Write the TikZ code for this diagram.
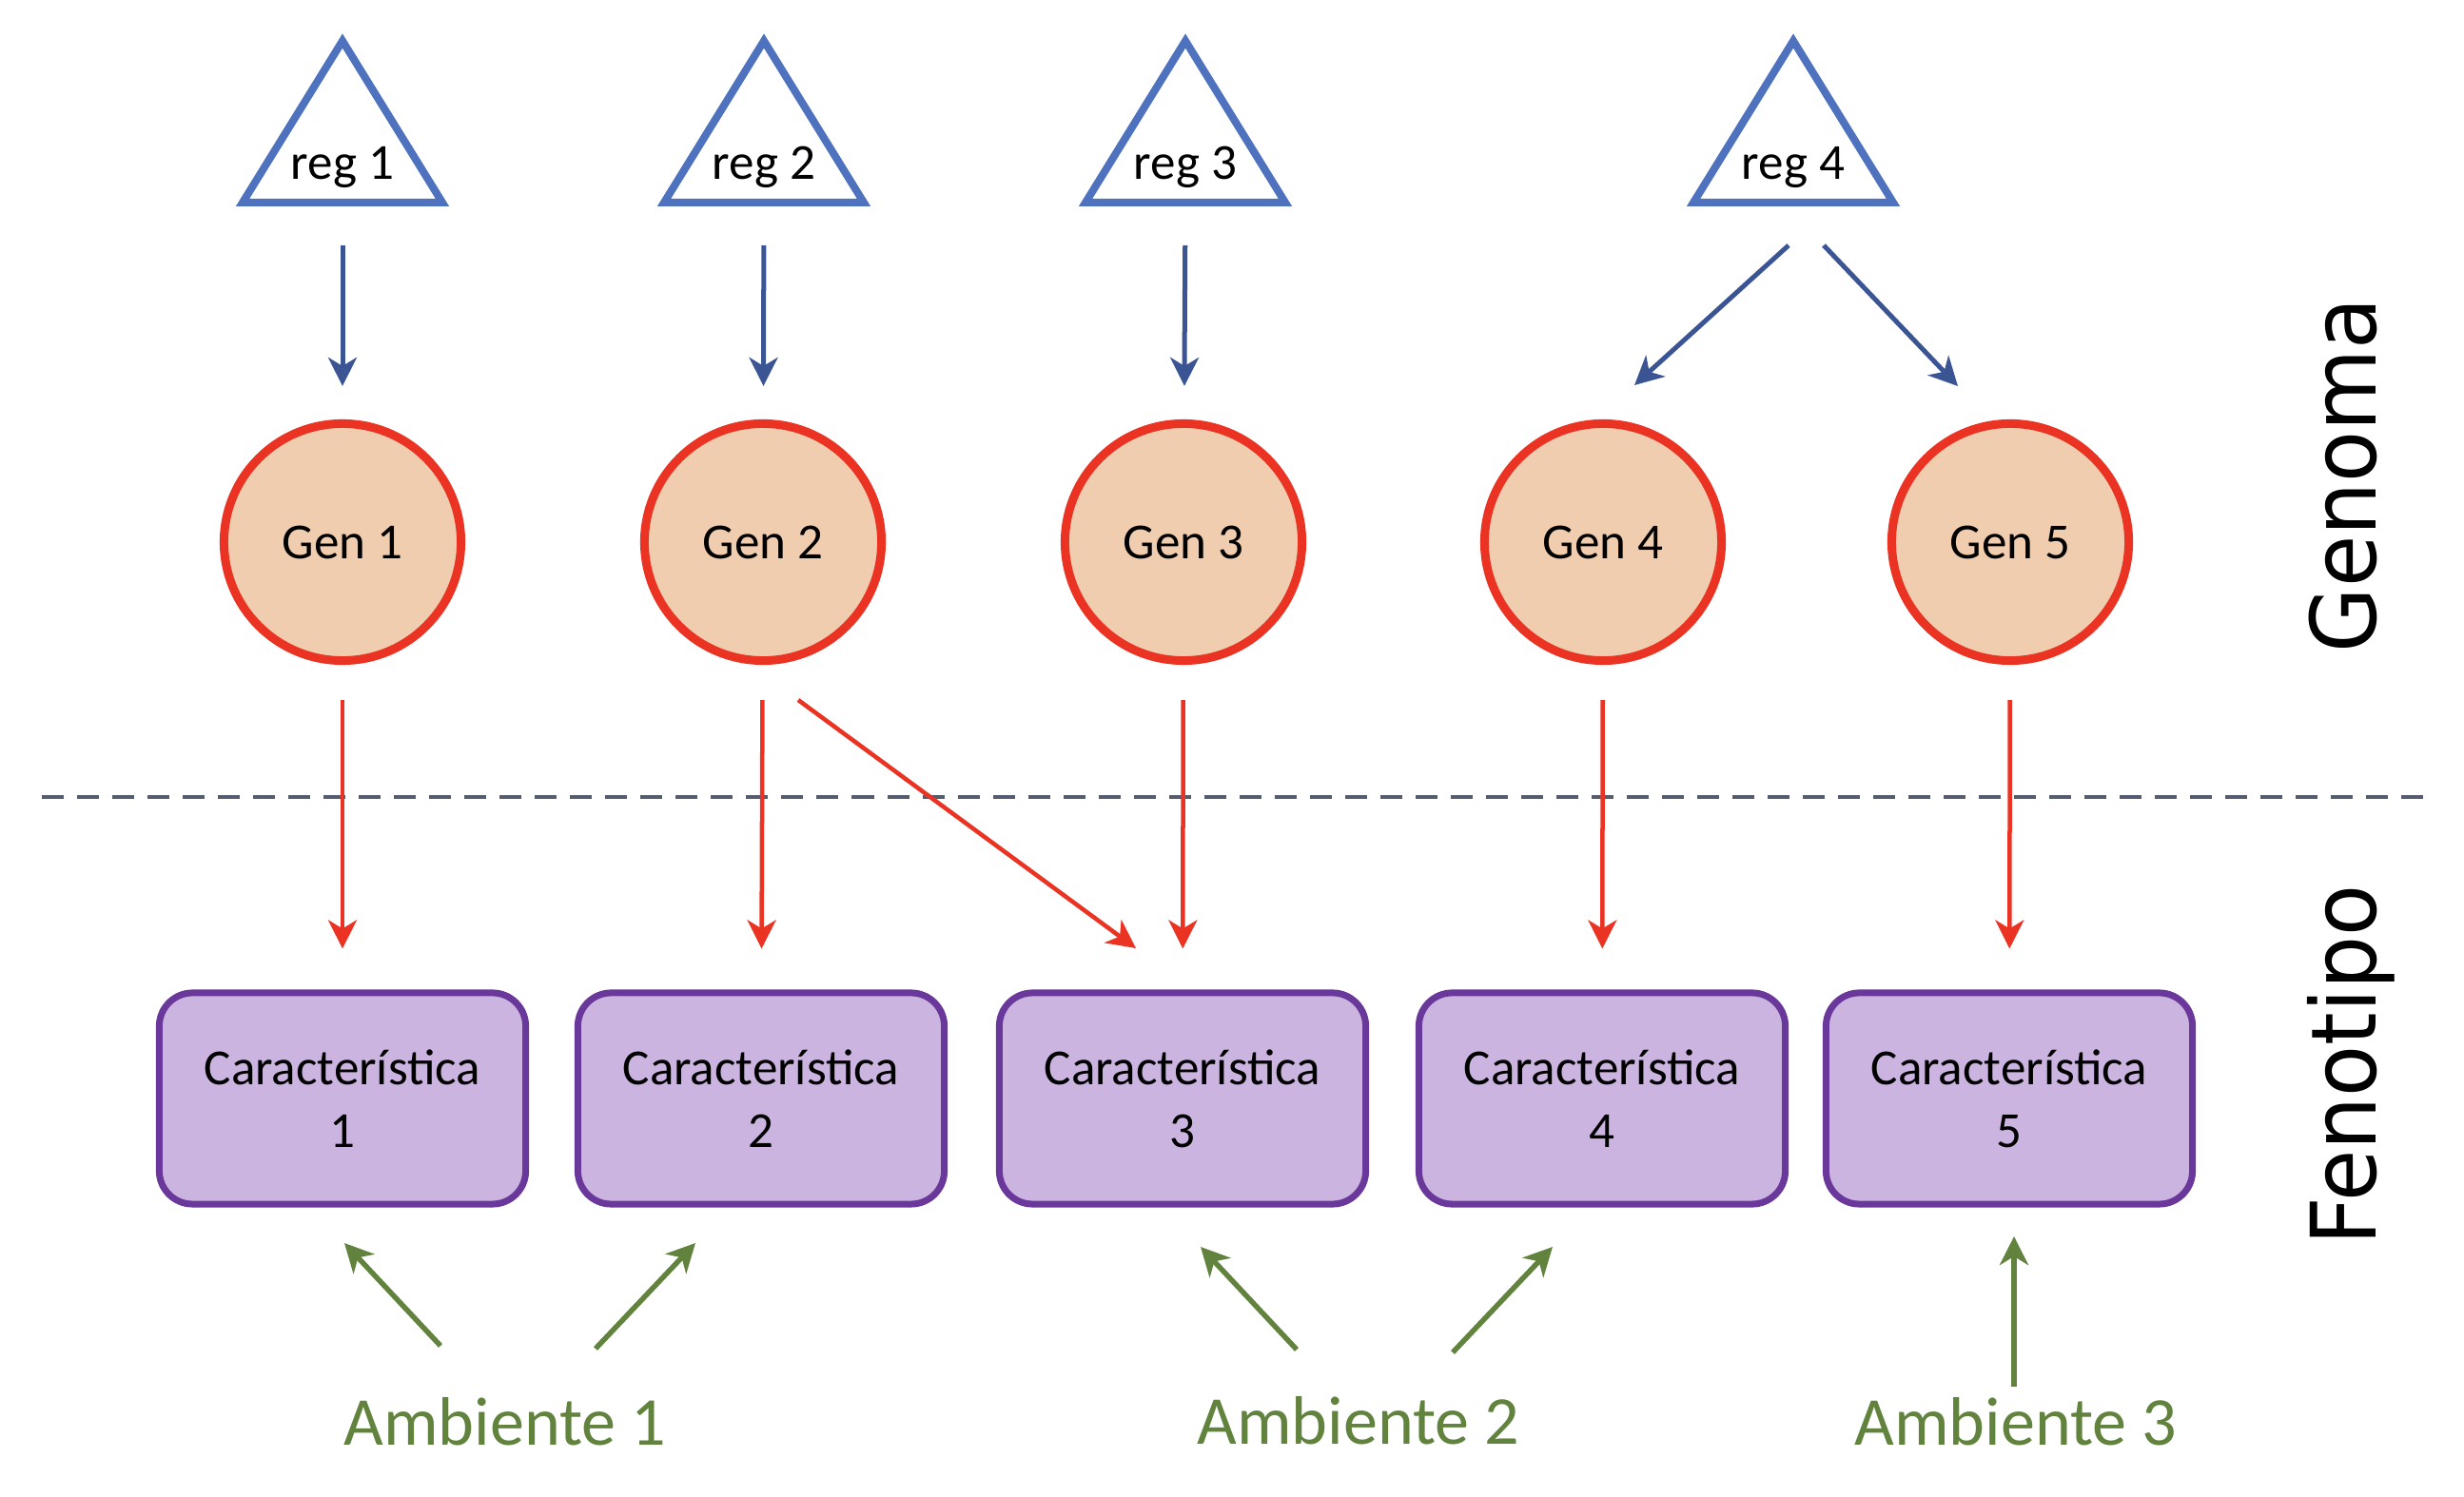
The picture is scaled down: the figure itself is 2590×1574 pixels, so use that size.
\documentclass[tikz,border=0pt]{standalone}
\usepackage{fontspec}
\setmainfont{Carlito}
\newfontfamily\sidefont[FakeStretch=0.93]{DejaVu Sans}
\usetikzlibrary{arrows.meta}
\definecolor{triblue}{RGB}{79,114,190}
\definecolor{arrblue}{RGB}{59,85,148}
\definecolor{genred}{RGB}{235,51,36}
\definecolor{genfill}{RGB}{241,205,176}
\definecolor{carfill}{RGB}{203,181,224}
\definecolor{carstroke}{RGB}{106,56,155}
\definecolor{envgreen}{RGB}{98,131,62}
\definecolor{dashgray}{RGB}{84,92,110}
\begin{document}
\begin{tikzpicture}[x=0.01cm,y=-0.01cm,
  tri/.style={draw=triblue, line width=0.08cm, fill=white, line join=miter},
  regtxt/.style={font=\fontsize{15.1}{18}\selectfont, anchor=base, inner sep=0},
  gen/.style={circle, draw=genred, fill=genfill, line width=0.09cm, minimum size=2.49cm, inner sep=0, font=\fontsize{15.1}{18}\selectfont},
  car/.style={rectangle, rounded corners=0.35cm, draw=carstroke, fill=carfill, line width=0.07cm, minimum width=3.85cm, minimum height=2.22cm, align=center, font=\fontsize{15.1}{18.8}\selectfont},
  tip/.style={-{Stealth[length=0.3cm,width=0.3cm,inset=0.09cm]}},
  barr/.style={tip, draw=arrblue, line width=0.05cm},
  rarr/.style={tip, draw=genred, line width=0.045cm},
  garr/.style={tip, draw=envgreen, line width=0.055cm},
  env/.style={font=\fontsize{20.5}{24}\selectfont, text=envgreen, anchor=base, inner sep=0},
  side/.style={font=\sidefont\fontsize{27}{32}\selectfont, rotate=90, anchor=base, inner sep=0},
]
\useasboundingbox (0,0) rectangle (2590,1574);

% regulators
\foreach \x/\n in {360/1,803/2,1246/3,1885/4}{
  \draw[tri] (\x-105,213) -- (\x,43) -- (\x+105,213) -- cycle;
  \node[regtxt] (r\n) at (\x,189) {reg \n};
  \coordinate (rb\n) at (\x,213);
}

% genes
\foreach \x/\n in {360/1,802/2,1244/3,1685/4,2113/5}{
  \node[gen] (g\n) at (\x,570) {Gen \n};
}

% characteristics
\foreach \x/\n in {360/1,800/2,1243/3,1684/4,2112/5}{
  \node[car] (c\n) at (\x,1155) {Característica\\\n};
}

% dashed separator
\coordinate (dl) at (44,838);
\coordinate (dr) at (2550,838);
\draw[draw=dashgray, line width=0.04cm, dash pattern=on 0.23cm off 0.14cm] (dl) -- (dr);

% side labels
\node[side] (genoma) at (2497,500) {Genoma};
\node[side] (fenotipo) at (2497,1120) {Fenotipo};

% blue arrows
\foreach \n in {1,2,3}{
  \draw[barr, shorten <=0.45cm, shorten >=0.35cm] (rb\n) -- (g\n);
}
\coordinate (r4l) at (1880,258);
\coordinate (g4t) at (1718,405);
\coordinate (r4r) at (1917,258);
\coordinate (g5t) at (2058,406);
\draw[barr] (r4l) -- (g4t);
\draw[barr] (r4r) -- (g5t);

% red arrows
\foreach \n in {1,2,3,4,5}{
  \draw[rarr, shorten <=0.37cm, shorten >=0.43cm] (g\n) -- (c\n);
}
\coordinate (g2d) at (839,736);
\coordinate (c3d) at (1194,997);
\draw[rarr] (g2d) -- (c3d);

% environments
\node[env] (a1) at (531,1520) {Ambiente 1};
\node[env] (a2) at (1428,1519) {Ambiente 2};
\node[env] (a3) at (2119,1520) {Ambiente 3};

\coordinate (a1l) at (463,1415);
\coordinate (c1b) at (362,1307);
\coordinate (a1r) at (626,1418);
\coordinate (c2b) at (731,1307);
\coordinate (a2l) at (1363,1419);
\coordinate (c3b) at (1262,1311);
\coordinate (a2r) at (1527,1422);
\coordinate (c4b) at (1632,1311);
\coordinate (a3t) at (2117,1458);
\coordinate (c5b) at (2117,1300);
\draw[garr] (a1l) -- (c1b);
\draw[garr] (a1r) -- (c2b);
\draw[garr] (a2l) -- (c3b);
\draw[garr] (a2r) -- (c4b);
\draw[garr] (a3t) -- (c5b);
\end{tikzpicture}
\end{document}
